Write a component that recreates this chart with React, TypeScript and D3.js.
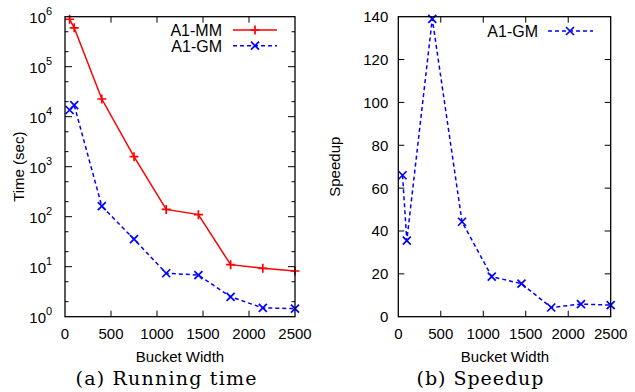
import * as d3 from 'd3';

const bucketWidths = [50, 100, 400, 750, 1100, 1450, 1800, 2150, 2500];
const timeMM = [890000, 600000, 22600, 1585, 140, 110, 11, 9.3, 8.2];
const timeGM = [13600, 17000, 162, 35.5, 7.4, 6.8, 2.5, 1.5, 1.45];
const speedupGM = [66, 35.5, 139, 44.3, 18.7, 15.4, 4.3, 5.9, 5.4];

const xTicks = [0, 500, 1000, 1500, 2000, 2500];
const logTicks = [0, 1, 2, 3, 4, 5, 6];
const logMinor = [2, 5];
const speedupTicks = [0, 20, 40, 60, 80, 100, 120, 140];

const RED = '#ff0000';
const BLUE = '#0000ff';
const DASH = '4,3';
const SANS = '"Liberation Sans", Arial, sans-serif';
const SERIF = '"DejaVu Serif", serif';

const plusPath = 'M-4.5,0H4.5M0,-4.5V4.5';
const crossPath = 'M-4,-4L4,4M-4,4L4,-4';

function Frame({ x0, x1, y0, y1 }: { x0: number; x1: number; y0: number; y1: number }) {
  return (
    <rect x={x0} y={y0} width={x1 - x0} height={y1 - y0} fill="none" stroke="#000" strokeWidth={1.3} />
  );
}

function XAxis({ x, y0, y1 }: { x: d3.ScaleLinear<number, number>; y0: number; y1: number }) {
  return (
    <g>
      {xTicks.map((t) => (
        <g key={t}>
          {t > 0 && t < 2500 && (
            <>
              <line x1={x(t)} x2={x(t)} y1={y1} y2={y1 - 6} stroke="#000" />
              <line x1={x(t)} x2={x(t)} y1={y0} y2={y0 + 6} stroke="#000" />
            </>
          )}
          <text x={x(t)} y={y1 + 22} textAnchor="middle" fontSize={15} fontFamily={SANS}>
            {t}
          </text>
        </g>
      ))}
    </g>
  );
}

function TimePanel() {
  const x0 = 65, x1 = 295, y0 = 16.7, y1 = 316.7;
  const x = d3.scaleLinear().domain([0, 2500]).range([x0, x1]);
  const y = d3.scaleLog().domain([1, 1e6]).range([y1, y0]);
  const line = d3
    .line<number>()
    .x((_, i) => x(bucketWidths[i]))
    .y((d) => y(d));
  const minor: number[] = [];
  logTicks.slice(0, -1).forEach((e) => logMinor.forEach((m) => minor.push(m * Math.pow(10, e))));

  return (
    <g>
      {logTicks.map((e) => {
        const v = Math.pow(10, e);
        return (
          <g key={e}>
            {e > 0 && e < 6 && (
              <>
                <line x1={x0} x2={x0 + 7} y1={y(v)} y2={y(v)} stroke="#000" />
                <line x1={x1} x2={x1 - 7} y1={y(v)} y2={y(v)} stroke="#000" />
              </>
            )}
            <text x={x0 - 19} y={y(v) + 6} textAnchor="end" fontSize={15} fontFamily={SANS}>
              10
            </text>
            <text x={x0 - 19} y={y(v) - 2} textAnchor="start" fontSize={11} fontFamily={SANS}>
              {e}
            </text>
          </g>
        );
      })}
      {minor.map((v) => (
        <g key={v}>
          <line x1={x0} x2={x0 + 3.5} y1={y(v)} y2={y(v)} stroke="#000" />
          <line x1={x1} x2={x1 - 3.5} y1={y(v)} y2={y(v)} stroke="#000" />
        </g>
      ))}
      <XAxis x={x} y0={y0} y1={y1} />
      <path d={line(timeMM) ?? ''} fill="none" stroke={RED} strokeWidth={1.5} />
      <path d={line(timeGM) ?? ''} fill="none" stroke={BLUE} strokeWidth={1.5} strokeDasharray={DASH} />
      {timeMM.map((v, i) => (
        <path key={'m' + i} d={plusPath} transform={`translate(${x(bucketWidths[i])},${y(v)})`} stroke={RED} strokeWidth={1.7} />
      ))}
      {timeGM.map((v, i) => (
        <path key={'g' + i} d={crossPath} transform={`translate(${x(bucketWidths[i])},${y(v)})`} stroke={BLUE} strokeWidth={1.7} />
      ))}
      <Frame x0={x0} x1={x1} y0={y0} y1={y1} />
      {/* legend */}
      <text x={222} y={35.5} textAnchor="end" fontSize={16} fontFamily={SANS}>A1-MM</text>
      <line x1={233} x2={277} y1={30} y2={30} stroke={RED} strokeWidth={1.5} />
      <path d={plusPath} transform="translate(255,30)" stroke={RED} strokeWidth={1.7} />
      <text x={222} y={51.5} textAnchor="end" fontSize={16} fontFamily={SANS}>A1-GM</text>
      <line x1={233} x2={277} y1={45.7} y2={45.7} stroke={BLUE} strokeWidth={1.5} strokeDasharray={DASH} />
      <path d={crossPath} transform="translate(255,45.7)" stroke={BLUE} strokeWidth={1.7} />
      <text x={180} y={362} textAnchor="middle" fontSize={15} fontFamily={SANS}>Bucket Width</text>
      <text transform={`translate(24,${(y0 + y1) / 2}) rotate(-90)`} textAnchor="middle" fontSize={15} fontFamily={SANS}>
        Time (sec)
      </text>
      <text x={166} y={385} textAnchor="middle" fontSize={19} fontFamily={SERIF} textLength={181} lengthAdjust="spacing">
        (a) Running time
      </text>
    </g>
  );
}

function SpeedupPanel() {
  const x0 = 398.3, x1 = 610.7, y0 = 16.7, y1 = 316.7;
  const x = d3.scaleLinear().domain([0, 2500]).range([x0, x1]);
  const y = d3.scaleLinear().domain([0, 140]).range([y1, y0]);
  const line = d3
    .line<number>()
    .x((_, i) => x(bucketWidths[i]))
    .y((d) => y(d));

  return (
    <g>
      {speedupTicks.map((t) => (
        <g key={t}>
          {t > 0 && t < 140 && (
            <>
              <line x1={x0} x2={x0 + 6} y1={y(t)} y2={y(t)} stroke="#000" />
              <line x1={x1} x2={x1 - 6} y1={y(t)} y2={y(t)} stroke="#000" />
            </>
          )}
          <text x={x0 - 10} y={y(t) + 5.5} textAnchor="end" fontSize={15} fontFamily={SANS}>
            {t}
          </text>
        </g>
      ))}
      <XAxis x={x} y0={y0} y1={y1} />
      <path d={line(speedupGM) ?? ''} fill="none" stroke={BLUE} strokeWidth={1.5} strokeDasharray={DASH} />
      {speedupGM.map((v, i) => (
        <path key={i} d={crossPath} transform={`translate(${x(bucketWidths[i])},${y(v)})`} stroke={BLUE} strokeWidth={1.7} />
      ))}
      <Frame x0={x0} x1={x1} y0={y0} y1={y1} />
      <text x={538} y={36.5} textAnchor="end" fontSize={16} fontFamily={SANS}>A1-GM</text>
      <line x1={548} x2={593} y1={31} y2={31} stroke={BLUE} strokeWidth={1.5} strokeDasharray={DASH} />
      <path d={crossPath} transform="translate(570,31)" stroke={BLUE} strokeWidth={1.7} />
      <text x={505} y={362} textAnchor="middle" fontSize={15} fontFamily={SANS}>Bucket Width</text>
      <text transform={`translate(340,${(y0 + y1) / 2}) rotate(-90)`} textAnchor="middle" fontSize={15} fontFamily={SANS}>
        Speedup
      </text>
      <text x={480} y={385} textAnchor="middle" fontSize={19} fontFamily={SERIF} textLength={127} lengthAdjust="spacing">
        (b) Speedup
      </text>
    </g>
  );
}

export default function App() {
  return (
    <svg
      width={635}
      height={392}
      style={{ position: 'absolute', left: 0, top: 0, background: '#fff' }}
    >
      <rect width={635} height={392} fill="#fff" />
      <TimePanel />
      <SpeedupPanel />
    </svg>
  );
}
